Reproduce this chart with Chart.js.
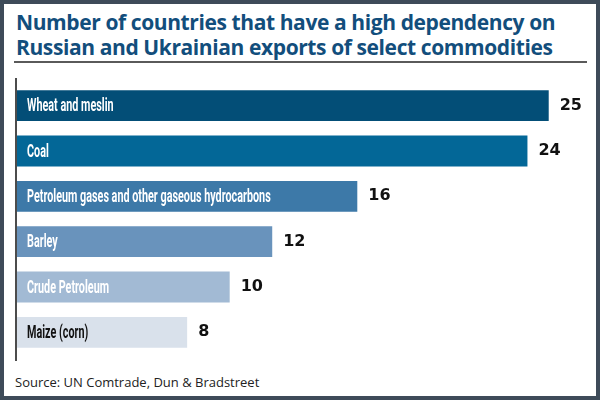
<!DOCTYPE html>
<html>
<head>
<meta charset="utf-8">
<script src="https://cdn.jsdelivr.net/npm/chart.js@4.4.0/dist/chart.umd.min.js"></script>
<style>
  html, body { margin: 0; padding: 0; background: #fff; }
  #frame {
    position: relative; width: 600px; height: 400px; box-sizing: border-box;
    border: 4px solid #3e4b59; background: #fff; overflow: hidden;
  }
  #title {
    position: absolute; left: 12px; top: 6px; margin: 0;
    font-family: "Open Sans", sans-serif; font-weight: 700; font-size: 21px;
    letter-spacing: -0.4px; line-height: 25px; color: #124e7c; white-space: nowrap;
  }
  #rule { position: absolute; left: 10px; top: 57px; width: 573px; height: 2px; background: #5a5a5a; }
  #source {
    position: absolute; left: 11px; top: 369px; margin: 0;
    font-family: "Open Sans", sans-serif; font-size: 13px; color: #222;
  }
  #wrap { position: absolute; left: -4px; top: 63px; width: 600px; height: 300px; }
</style>
</head>
<body>
<div id="frame">
  <h1 id="title">Number of countries that have a high dependency on<br>Russian and Ukrainian exports of select commodities</h1>
  <div id="rule"></div>
  <div id="wrap"><canvas id="chart"></canvas></div>
  <p id="source">Source: UN Comtrade, Dun &amp; Bradstreet</p>
</div>
<script>
// datos del grafico
const commodities = ['Wheat and meslin', 'Coal', 'Petroleum gases and other gaseous hydrocarbons', 'Barley', 'Crude Petroleum', 'Maize (corn)'];
const countryCounts = [25, 24, 16, 12, 10, 8];
const barColors = ['#034e77', '#036797', '#3d79a8', '#6993bc', '#a2bad4', '#d9e1eb'];
const labelColors = ['#fff', '#fff', '#fff', '#fff', '#fff', '#111'];

// etiquetas dentro de las barras y valores al final
const barLabels = {
    id: 'barLabels',
    afterDatasetsDraw(chart) {
        const ctx = chart.ctx;
        const area = chart.chartArea;
        // linea del eje (un poco mas larga que el area)
        ctx.save();
        ctx.strokeStyle = '#111';
        ctx.lineWidth = 1.5;
        ctx.beginPath();
        ctx.moveTo(area.left - 1, area.top - 5);
        ctx.lineTo(area.left - 1, area.bottom + 6);
        ctx.stroke();

        chart.getDatasetMeta(0).data.forEach((bar, i) => {
            // nombre de la categoria, fuente condensada
            ctx.save();
            ctx.fillStyle = labelColors[i];
            ctx.font = 'bold 18px Roboto, "DejaVu Sans", sans-serif';
            ctx.textBaseline = 'middle';
            ctx.translate(bar.base + 10, bar.y + 1);
            ctx.scale(0.6, 1);
            ctx.fillText(commodities[i], 0, 0);
            ctx.restore();

            // valor
            ctx.fillStyle = '#111';
            ctx.font = 'bold 16px "DejaVu Sans"';
            ctx.textBaseline = 'middle';
            ctx.fillText(countryCounts[i], bar.x + 11, bar.y);
        });
        ctx.restore();
    }
};

new Chart(document.getElementById('chart'), {
    type: 'bar',
    data: {
        labels: commodities,
        datasets: [{
            data: countryCounts,
            backgroundColor: barColors,
            borderWidth: 0,
            barPercentage: 0.68,
            categoryPercentage: 1
        }]
    },
    options: {
        indexAxis: 'y',
        responsive: true,
        maintainAspectRatio: false,
        animation: false,
        layout: { padding: { left: 17, right: 13, top: 16, bottom: 12 } },
        plugins: { legend: { display: false }, tooltip: { enabled: false } },
        scales: {
            x: { display: false, min: 0, max: 26.8 },
            y: { display: false }
        }
    },
    plugins: [barLabels]
});
</script>
</body>
</html>
